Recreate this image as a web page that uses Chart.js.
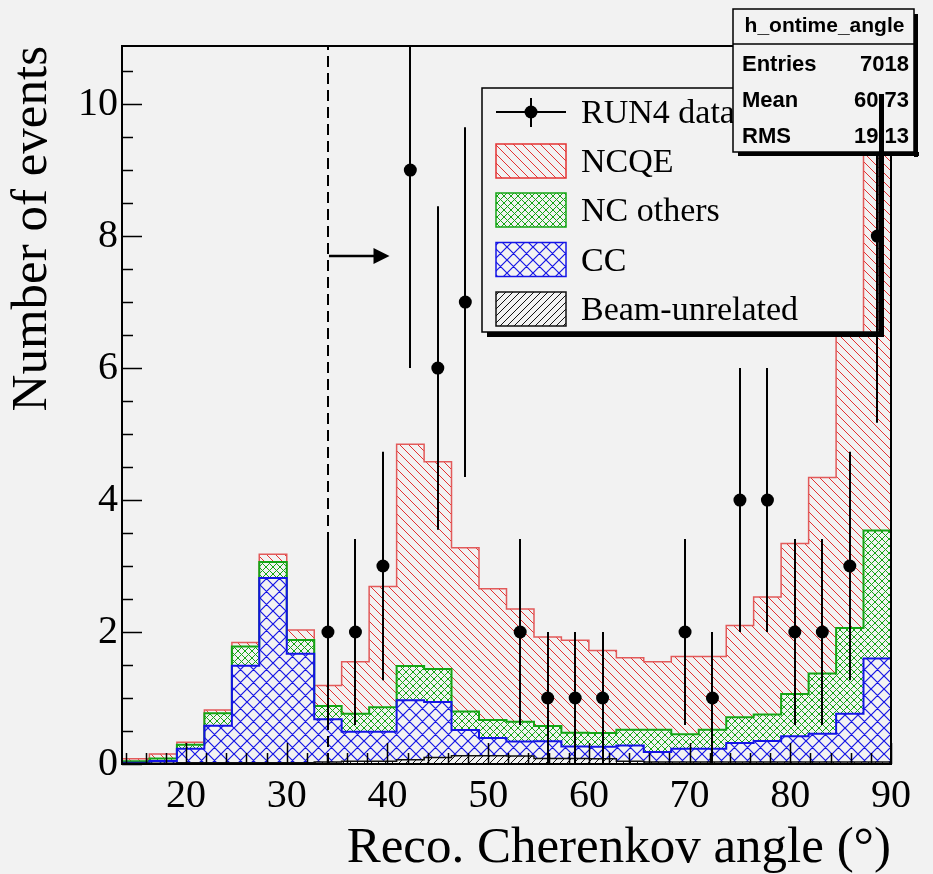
<!DOCTYPE html>
<html>
<head>
<meta charset="utf-8">
<script src="https://cdn.jsdelivr.net/npm/chart.js@4.4.1/dist/chart.umd.min.js"></script>
<style>
  html, body { margin: 0; padding: 0; background: #f2f2f2; }
  #c { display: block; }
</style>
</head>
<body>
<canvas id="c" width="933" height="874"></canvas>
<script>
// bin edges (degrees), 28 bins of 90/33
const binEdges = [13.64, 16.36, 19.09, 21.82, 24.55, 27.27, 30.00, 32.73, 35.45, 38.18,
  40.91, 43.64, 46.36, 49.09, 51.82, 54.55, 57.27, 60.00, 62.73, 65.45,
  68.18, 70.91, 73.64, 76.36, 79.09, 81.82, 84.55, 87.27, 90.00];

// MC components per bin (stacked bottom -> top)
const beamUnrelated = [0.01, 0.01, 0.02, 0.02, 0.02, 0.02, 0.02, 0.03, 0.04, 0.04,
  0.065, 0.10, 0.125, 0.125, 0.12, 0.085, 0.085, 0.08, 0.04, 0.03,
  0.03, 0.03, 0.03, 0.03, 0.03, 0.03, 0.03, 0.03];
const ccEvents = [0.01, 0.035, 0.21, 0.56, 1.47, 2.80, 1.65, 0.65, 0.45, 0.45,
  0.90, 0.84, 0.39, 0.27, 0.22, 0.26, 0.18, 0.18, 0.24, 0.15,
  0.20, 0.20, 0.29, 0.32, 0.39, 0.43, 0.73, 1.57];
const ncOthers = [0.02, 0.04, 0.06, 0.19, 0.29, 0.24, 0.21, 0.20, 0.27, 0.37,
  0.52, 0.50, 0.28, 0.27, 0.30, 0.23, 0.21, 0.21, 0.24, 0.34,
  0.22, 0.29, 0.39, 0.40, 0.64, 0.91, 1.30, 1.94];
const ncqe = [0.04, 0.065, 0.04, 0.05, 0.06, 0.12, 0.15, 0.31, 0.79, 1.83,
  3.36, 3.14, 2.48, 1.99, 1.71, 1.35, 1.40, 1.25, 1.09, 1.03,
  1.18, 1.11, 1.39, 1.78, 2.28, 2.97, 4.44, 6.30];

// RUN4 data
const dataAngle = [34.09, 36.82, 39.55, 42.27, 45.00, 47.73, 53.18, 55.91, 58.64, 61.36,
  69.55, 72.27, 75.00, 77.73, 80.45, 83.18, 85.91, 88.64];
const dataCount = [2, 2, 3, 9, 6, 7, 2, 1, 1, 1, 2, 1, 4, 4, 2, 2, 3, 8];
const dataErr = [1.41, 1.41, 1.73, 3.00, 2.45, 2.65, 1.41, 1.00, 1.00, 1.00,
  1.41, 1.00, 2.00, 2.00, 1.41, 1.41, 1.73, 2.83];

const xTicks = [20, 30, 40, 50, 60, 70, 80, 90];
const yTicks = [0, 2, 4, 6, 8, 10];
const cutAngle = 34.05;      // dashed cut line
const arrowEnd = 40.2;
const arrowY = 7.7;

const legendLabels = ['RUN4 data', 'NCQE', 'NC others', 'CC', 'Beam-unrelated'];
const statsRows = [['Entries', '7018'], ['Mean', '60.73'], ['RMS', '19.13']];

const SERIF = '"Liberation Serif", "Times New Roman", serif';
const SANS = '"Liberation Sans", Arial, sans-serif';

// hatch patterns like ROOT fill styles
function hatch(color, p, dirs, lw) {
  const c = document.createElement('canvas');
  c.width = p; c.height = p;
  const g = c.getContext('2d');
  g.strokeStyle = color;
  g.lineWidth = lw;
  g.beginPath();
  for (let k = -1; k <= 1; k++) {
    if (dirs.includes('\\')) { g.moveTo(k * p - 1, -1); g.lineTo(k * p + p + 1, p + 1); }
    if (dirs.includes('/')) { g.moveTo(k * p - 1, p + 1); g.lineTo(k * p + p + 1, -1); }
  }
  g.stroke();
  return g.createPattern(c, 'repeat');
}

const red = 'rgb(228,50,50)', green = 'rgb(20,165,20)', blue = 'rgb(20,20,230)', blk = '#111';
const patRed = hatch(red, 9, '\\', 1);
const patGreen = hatch(green, 7, '\\/', 1);
const patBlue = hatch(blue, 13, '\\/', 1.2);
const patBlack = hatch(blk, 7, '/', 1);

// cumulative tops of the stack
function cum(...arrs) {
  return arrs[0].map((_, i) => arrs.reduce((s, a) => s + a[i], 0));
}
function steps(tops) {
  const pts = tops.map((v, i) => ({ x: binEdges[i], y: v }));
  pts.push({ x: binEdges[binEdges.length - 1], y: tops[tops.length - 1] });
  return pts;
}
const topBeam = cum(beamUnrelated);
const topCC = cum(beamUnrelated, ccEvents);
const topNCo = cum(beamUnrelated, ccEvents, ncOthers);
const topNCQE = cum(beamUnrelated, ccEvents, ncOthers, ncqe);

function layer(label, tops, pat, col, fill, lw) {
  return {
    label: label, data: steps(tops), stepped: 'before', fill: fill,
    backgroundColor: pat, borderColor: col, borderWidth: lw,
    pointRadius: 0, tension: 0
  };
}

const rootPlugin = {
  id: 'rootStyle',
  afterDatasetsDraw(chart) {
    const { ctx, chartArea: a } = chart;
    const xs = chart.scales.x, ys = chart.scales.y;
    ctx.save();
    // error bars
    ctx.beginPath();
    ctx.rect(a.left, a.top, a.right - a.left, a.bottom - a.top);
    ctx.clip();
    ctx.strokeStyle = '#000';
    ctx.lineWidth = 2;
    dataAngle.forEach((x, i) => {
      const px = Math.round(xs.getPixelForValue(x));
      ctx.beginPath();
      ctx.moveTo(px, ys.getPixelForValue(dataCount[i] - dataErr[i]));
      ctx.lineTo(px, ys.getPixelForValue(dataCount[i] + dataErr[i]));
      ctx.stroke();
    });
    // dashed cut line
    const cx = Math.round(xs.getPixelForValue(cutAngle));
    ctx.setLineDash([11, 6]);
    ctx.beginPath();
    ctx.moveTo(cx, a.bottom);
    ctx.lineTo(cx, a.top);
    ctx.stroke();
    ctx.setLineDash([]);
    // arrow
    const ay = Math.round(ys.getPixelForValue(arrowY));
    const ax2 = xs.getPixelForValue(arrowEnd);
    ctx.lineWidth = 2.5;
    ctx.beginPath();
    ctx.moveTo(cx + 1, ay);
    ctx.lineTo(ax2 - 10, ay);
    ctx.stroke();
    ctx.fillStyle = '#000';
    ctx.beginPath();
    ctx.moveTo(ax2, ay);
    ctx.lineTo(ax2 - 16, ay - 8);
    ctx.lineTo(ax2 - 16, ay + 8);
    ctx.closePath();
    ctx.fill();
    ctx.restore();
  },
  afterDraw(chart) {
    const { ctx, chartArea: a } = chart;
    const xs = chart.scales.x, ys = chart.scales.y;
    ctx.save();
    // frame
    ctx.strokeStyle = '#000';
    ctx.lineWidth = 2;
    ctx.strokeRect(a.left, a.top, a.right - a.left, a.bottom - a.top);
    // inward ticks
    ctx.lineWidth = 1.5;
    ctx.beginPath();
    for (let v = 14; v <= 90.01; v += 2) {
      const px = Math.round(xs.getPixelForValue(v)) + 0.5;
      const len = xTicks.includes(Math.round(v)) ? 21 : 11;
      ctx.moveTo(px, a.bottom);
      ctx.lineTo(px, a.bottom - len);
    }
    for (let v = 0; v <= 10.51; v += 0.5) {
      const py = Math.round(ys.getPixelForValue(v)) + 0.5;
      const len = yTicks.includes(v) ? 20 : 11;
      ctx.moveTo(a.left, py);
      ctx.lineTo(a.left + len, py);
    }
    ctx.stroke();

    // legend (transparent fill, ROOT style shadow)
    const L = { l: 482, t: 88, r: 879, b: 332 };
    ctx.lineWidth = 1.5;
    ctx.strokeRect(L.l, L.t, L.r - L.l, L.b - L.t);
    ctx.fillStyle = '#000';
    ctx.fillRect(L.l + 5, L.b, L.r - L.l, 5);
    const rowsY = [112, 161, 210, 259.5, 309];
    const pats = [null, [patRed, red], [patGreen, green], [patBlue, blue], [patBlack, blk]];
    ctx.font = '34px ' + SERIF;
    ctx.textBaseline = 'alphabetic';
    legendLabels.forEach((t, i) => {
      const y = rowsY[i];
      if (i === 0) {
        ctx.strokeStyle = '#000';
        ctx.lineWidth = 2;
        ctx.beginPath();
        ctx.moveTo(496, y); ctx.lineTo(566, y);
        ctx.moveTo(531, y - 14); ctx.lineTo(531, y + 15);
        ctx.stroke();
        ctx.beginPath();
        ctx.arc(531, y, 6.5, 0, Math.PI * 2);
        ctx.fill();
      } else {
        ctx.fillStyle = pats[i][0];
        ctx.fillRect(496, y - 17, 70, 34);
        ctx.strokeStyle = pats[i][1];
        ctx.lineWidth = 1.5;
        ctx.strokeRect(496, y - 17, 70, 34);
      }
      ctx.fillStyle = '#000';
      ctx.fillText(t, 581, y + 11);
    });

    // stats box
    const S = { l: 733, t: 9, r: 914, b: 152 };
    ctx.fillStyle = '#000';
    ctx.fillRect(S.l + 5, S.b, S.r - S.l, 4);
    ctx.fillRect(S.r, S.t + 5, 4, S.b - S.t);
    ctx.fillStyle = '#f2f2f2';
    ctx.fillRect(S.l, S.t, S.r - S.l, S.b - S.t);
    ctx.strokeStyle = '#000';
    ctx.lineWidth = 1.5;
    ctx.strokeRect(S.l, S.t, S.r - S.l, S.b - S.t);
    ctx.beginPath();
    ctx.moveTo(S.l, 44); ctx.lineTo(S.r, 44);
    ctx.stroke();
    ctx.fillStyle = '#000';
    ctx.font = 'bold 21px ' + SANS;
    ctx.textAlign = 'center';
    ctx.fillText('h_ontime_angle', (S.l + S.r) / 2 + 1, 32);
    ctx.font = 'bold 22px ' + SANS;
    const sy = [71, 107, 143];
    statsRows.forEach((r, i) => {
      ctx.textAlign = 'left';
      ctx.fillText(r[0], 742, sy[i]);
      ctx.textAlign = 'right';
      ctx.fillText(r[1], 909, sy[i]);
    });
    // legend right shadow drawn last, over the stats box
    ctx.fillRect(L.r, L.t + 6, 5, L.b - L.t - 1);
    ctx.restore();
  }
};

new Chart(document.getElementById('c'), {
  type: 'line',
  data: {
    datasets: [
      layer('Beam-unrelated', topBeam, patBlack, blk, 'origin', 1.5),
      layer('CC', topCC, patBlue, blue, '-1', 2),
      layer('NC others', topNCo, patGreen, green, '-1', 2),
      layer('NCQE', topNCQE, patRed, 'rgb(226,90,90)', '-1', 1.5),
      {
        type: 'scatter', label: 'RUN4 data', order: -1,
        data: dataAngle.map((x, i) => ({ x: x, y: dataCount[i] })),
        pointRadius: 6.5, pointBackgroundColor: '#000', pointBorderColor: '#000',
        pointBorderWidth: 0, showLine: false
      }
    ]
  },
  options: {
    responsive: false,
    animation: false,
    devicePixelRatio: 1,
    layout: { padding: { top: 46, right: 42, left: 0, bottom: 0 } },
    plugins: { legend: { display: false }, tooltip: { enabled: false } },
    scales: {
      x: {
        type: 'linear', min: binEdges[0], max: binEdges[binEdges.length - 1],
        grid: { display: false, drawTicks: false },
        border: { display: false },
        afterBuildTicks: s => { s.ticks = xTicks.map(v => ({ value: v })); },
        ticks: { font: { family: SERIF, size: 40 }, color: '#000', padding: 8, maxRotation: 0, autoSkip: false },
        title: {
          display: true, text: 'Reco. Cherenkov angle (°)', align: 'end', color: '#000',
          font: { family: SERIF, size: 51, lineHeight: 1 }, padding: { top: 0, bottom: 0 }
        },
        afterFit: s => { s.height = 110; }
      },
      y: {
        min: 0, max: 10.88,
        grid: { display: false, drawTicks: false },
        border: { display: false },
        afterBuildTicks: s => { s.ticks = yTicks.map(v => ({ value: v })); },
        ticks: { font: { family: SERIF, size: 40 }, color: '#000', padding: 4, autoSkip: false },
        title: {
          display: true, text: 'Number of events', align: 'end', color: '#000',
          font: { family: SERIF, size: 51, lineHeight: 1 }, padding: { top: 7, bottom: 0 }
        },
        afterFit: s => { s.width = 122; }
      }
    }
  },
  plugins: [rootPlugin]
});
</script>
</body>
</html>
